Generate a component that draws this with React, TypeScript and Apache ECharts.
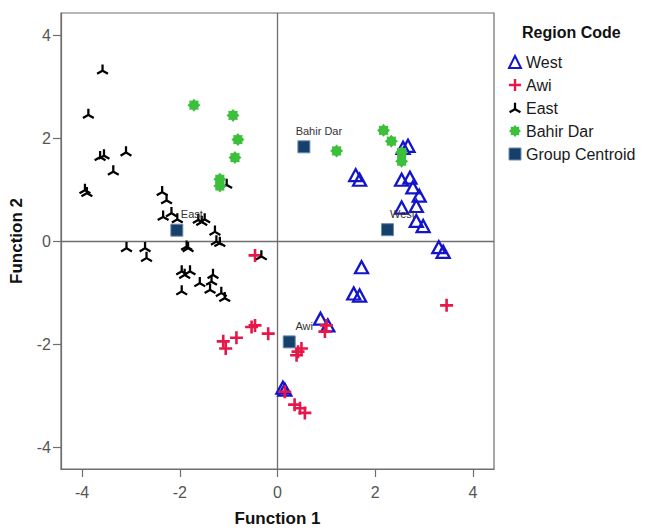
import React, { useEffect, useRef } from "react";
import * as echarts from "echarts";

// ---- data ----
const xTicks = [-4, -2, 0, 2, 4];
const yTicks = [-4, -2, 0, 2, 4];

const westPoints: number[][] = [
  [2.57, 1.82], [2.67, 1.86], [1.6, 1.29], [1.68, 1.2], [2.54, 1.2], [2.71, 1.24],
  [2.77, 1.05], [2.9, 0.89], [2.84, 0.69], [2.54, 0.66], [2.84, 0.4], [2.98, 0.3],
  [3.3, -0.11], [3.39, -0.2], [1.72, -0.5], [1.56, -1.01], [1.68, -1.05],
  [0.88, -1.5], [1.03, -1.63], [0.11, -2.84], [0.15, -2.88],
];

const awiPoints: number[][] = [
  [-1.11, -1.94], [-1.06, -2.08], [-0.84, -1.87], [-0.53, -1.66], [-0.46, -1.63],
  [-0.19, -1.79], [0.42, -2.14], [0.49, -2.08], [0.39, -2.21], [0.97, -1.75],
  [1.0, -1.63], [0.15, -2.92], [0.35, -3.17], [0.46, -3.24], [0.56, -3.33],
  [3.46, -1.24], [-0.46, -0.27],
];

const eastPoints: number[][] = [
  [-3.58, 3.34], [-3.87, 2.48], [-3.63, 1.66], [-3.55, 1.69], [-3.1, 1.75],
  [-3.36, 1.38], [-3.94, 1.02], [-3.9, 0.96], [-2.36, 0.98], [-2.27, 0.82],
  [-2.34, 0.5], [-2.17, 0.57], [-2.05, 0.45], [-1.62, 0.44], [-1.49, 0.45],
  [-1.55, 0.4], [-1.28, 0.21], [-1.25, 0.02], [-1.18, -0.01], [-3.09, -0.11],
  [-2.71, -0.11], [-2.68, -0.3], [-1.86, -0.08], [-1.83, -0.11], [-1.04, 1.12],
  [-0.33, -0.27], [-1.96, -0.56], [-1.79, -0.56], [-1.9, -0.63], [-1.59, -0.79],
  [-1.32, -0.63], [-1.35, -0.76], [-1.38, -0.92], [-1.15, -0.98], [-1.08, -1.08],
  [-1.96, -0.95],
];

const bahirDarPoints: number[][] = [
  [-1.71, 2.65], [-0.91, 2.45], [-0.81, 1.98], [-0.87, 1.63], [-1.18, 1.21],
  [-1.18, 1.08], [2.17, 2.16], [2.33, 1.95], [1.21, 1.76], [2.54, 1.73], [2.54, 1.56],
];

const centroidNames = ["Bahir Dar", "West", "East", "Awi"];
const centroidPoints: number[][] = [
  [0.54, 1.84], [2.25, 0.23], [-2.06, 0.22], [0.24, -1.95],
];

const seriesNames = ["West", "Awi", "East", "Bahir Dar", "Group Centroid"];

// ---- marker shapes ----
const FONT = "'Liberation Sans', Arial, sans-serif";
const plusPath = "path://M4,0H6V4H10V6H6V10H4V6H0V4H4Z";
const eastPath =
  "path://M5.9,0L5.9,4.48L9.78,6.72L8.88,8.28L5,6.04L1.12,8.28L0.22,6.72L4.1,4.48L4.1,0Z";
function gearPath(): string {
  const n = 8;
  const pts: string[] = [];
  for (let i = 0; i < 2 * n; i++) {
    const a = (i * Math.PI) / n - Math.PI / 2;
    const r = i % 2 === 0 ? 5 : 3.7;
    pts.push(`${(5 + r * Math.cos(a)).toFixed(2)},${(5 + r * Math.sin(a)).toFixed(2)}`);
  }
  return "path://M" + pts.join("L") + "Z";
}
const flowerPath = gearPath();

const BLUE = "#1414c8";
const RED = "#e8174a";
const GREEN = "#3cc03c";
const NAVY = "#163f6c";
const NAVY_BORDER = "#6a8cb0";

export default function App() {
  const ref = useRef<HTMLDivElement>(null);
  useEffect(() => {
    if (!ref.current) return;
    const chart = echarts.init(ref.current, undefined, { renderer: "svg" });
    const axisCommon = {
      type: "value" as const,
      splitLine: { show: false },
      axisLine: { show: true, onZero: false, lineStyle: { color: "#6e6e6e", width: 1.2 } },
      axisTick: { show: true, length: 8, lineStyle: { color: "#6e6e6e", width: 1.2 } },
      nameTextStyle: { fontFamily: FONT, fontWeight: "bold", fontSize: 17, color: "#111" },
      nameLocation: "middle" as const,
    };
    chart.setOption({
      animation: false,
      backgroundColor: "#ffffff",
      textStyle: { fontFamily: FONT },
      grid: {
        left: 61, right: 152, top: 13, bottom: 61,
        show: true, borderColor: "#6e6e6e", borderWidth: 1.2,
      },
      xAxis: {
        ...axisCommon,
        min: -4.43, max: 4.43,
        name: "Function 1", nameGap: 41,
        axisTick: { ...axisCommon.axisTick, customValues: xTicks },
        axisLabel: { customValues: xTicks, fontSize: 16, color: "#555", margin: 15, fontFamily: FONT },
      },
      yAxis: {
        ...axisCommon,
        min: -4.42, max: 4.44,
        name: "Function 2", nameGap: 36,
        axisTick: { ...axisCommon.axisTick, customValues: yTicks },
        axisLabel: { customValues: yTicks, fontSize: 16, color: "#555", margin: 10, fontFamily: FONT },
      },
      legend: {
        orient: "vertical",
        left: 503, top: 49,
        itemWidth: 12, itemHeight: 12, itemGap: 7,
        textStyle: { fontFamily: FONT, fontSize: 16, color: "#1a1a1a" },
        data: [
          { name: "West", icon: "triangle", itemStyle: { color: "rgba(255,255,255,0)", borderColor: BLUE, borderWidth: 2, opacity: 1 } },
          { name: "Awi", icon: plusPath, itemStyle: { color: RED, borderWidth: 0, opacity: 1 } },
          { name: "East", icon: eastPath, itemStyle: { color: "#000", borderWidth: 0, opacity: 1 } },
          { name: "Bahir Dar", icon: flowerPath, itemStyle: { color: GREEN, borderWidth: 0, opacity: 1 } },
          { name: "Group Centroid", icon: "rect", itemStyle: { color: NAVY, borderColor: NAVY_BORDER, borderWidth: 1, opacity: 1 } },
        ],
      },
      graphic: [
        {
          type: "text", left: 522, top: 24,
          style: { text: "Region Code", font: `bold 16px ${FONT}`, fill: "#111" },
        },
      ],
      series: [
        {
          name: seriesNames[0], type: "scatter", data: westPoints,
          symbol: "triangle", symbolSize: [13, 12],
          itemStyle: { color: "rgba(255,255,255,0)", borderColor: BLUE, borderWidth: 2.3, opacity: 1 },
          markLine: {
            silent: true, symbol: "none", z: 1,
            label: { show: false },
            lineStyle: { color: "#6e6e6e", width: 1.3, type: "solid" },
            data: [{ xAxis: 0 }, { yAxis: 0 }],
          },
        },
        {
          name: seriesNames[1], type: "scatter", data: awiPoints,
          symbol: plusPath, symbolSize: 13,
          itemStyle: { color: RED, opacity: 1 },
        },
        {
          name: seriesNames[2], type: "scatter", data: eastPoints,
          symbol: eastPath, symbolSize: [12, 10.4],
          itemStyle: { color: "#000", opacity: 1 },
        },
        {
          name: seriesNames[3], type: "scatter", data: bahirDarPoints,
          symbol: flowerPath, symbolSize: 13,
          itemStyle: { color: GREEN, opacity: 1 },
        },
        {
          name: seriesNames[4], type: "scatter",
          data: centroidPoints.map((p, i) => ({ name: centroidNames[i], value: p })),
          symbol: "rect", symbolSize: 12,
          itemStyle: { color: NAVY, borderColor: NAVY_BORDER, borderWidth: 1, opacity: 1 },
          label: {
            show: true, formatter: "{b}", position: "top", distance: 4, offset: [15, 0],
            fontSize: 11, color: "#333", fontFamily: FONT,
          },
        },
      ],
    });
    return () => chart.dispose();
  }, []);
  return (
    <div
      ref={ref}
      style={{ position: "fixed", left: 0, top: 0, width: 646, height: 532, background: "#fff" }}
    />
  );
}
